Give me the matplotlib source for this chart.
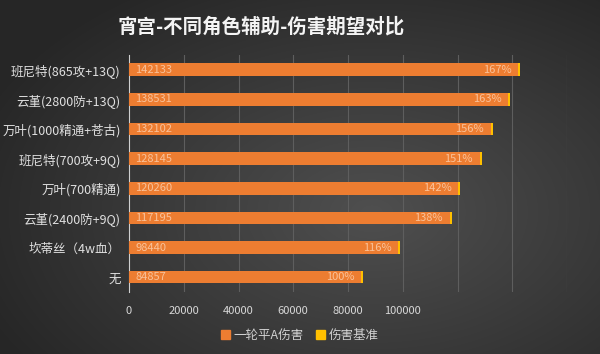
import numpy as np
import matplotlib.pyplot as plt

plt.rcParams['font.family'] = ['Noto Sans CJK SC', 'DejaVu Sans']

# 数据
角色 = ['班尼特(865攻+13Q)', '云堇(2800防+13Q)', '万叶(1000精通+苍古)', '班尼特(700攻+9Q)',
      '万叶(700精通)', '云堇(2400防+9Q)', '坎蒂丝（4w血）', '无']
伤害 = [142133, 138531, 132102, 128145, 120260, 117195, 98440, 84857]
基准 = ['167%', '163%', '156%', '151%', '142%', '138%', '116%', '100%']
刻度 = [0, 20000, 40000, 60000, 80000, 100000]
网格 = [0, 20000, 40000, 60000, 80000, 100000, 120000, 140000, 160000]
基准宽度 = 700

fig = plt.figure(figsize=(6, 3.54), dpi=100)

# 背景渐变
bg = fig.add_axes([0, 0, 1, 1], zorder=-10)
yy, xx = np.mgrid[0:1:354j, 0:1:600j]
r = np.sqrt(((xx - 0.62) / 0.75) ** 2 + ((yy - 0.6) / 0.8) ** 2)
val = np.clip(0.31 - 0.17 * r, 0.15, 0.31)
bg.imshow(np.dstack([val, val, val]), aspect='auto', extent=[0, 1, 0, 1])
bg.axis('off')

ax = fig.add_axes([0.215, 0.175, 0.73, 0.67])
ax.patch.set_alpha(0)
y = np.arange(len(角色))

ax.barh(y, 伤害, height=0.42, color='#ed7d31', zorder=3)
ax.barh(y, [基准宽度] * len(y), left=伤害, height=0.42, color='#ffc000', zorder=3)

for i in range(len(y)):
    ax.text(2200, y[i], str(伤害[i]), va='center', ha='left', fontsize=8,
            color='#f9c29a', zorder=4)
    ax.text(伤害[i] - 2500, y[i], 基准[i], va='center', ha='right', fontsize=8,
            color='#f9c29a', zorder=4)

ax.set_xlim(0, 160000)
ax.set_ylim(len(y) - 0.5, -0.5)
ax.set_yticks(y)
ax.set_yticklabels(角色, fontsize=9, color='#e0e0e0')
ax.set_xticks(刻度)
ax.set_xticklabels([str(t) for t in 刻度], fontsize=8, color='#d8d8d8')
for g in 网格[1:]:
    ax.axvline(g, color='#5e5e5e', linewidth=0.8, zorder=1)
ax.tick_params(length=0, pad=6)
ax.tick_params(axis='x', pad=10)
for s in ['top', 'right', 'bottom']:
    ax.spines[s].set_visible(False)
ax.spines['left'].set_color('#cfcfcf')
ax.spines['left'].set_linewidth(0.8)

fig.text(0.436, 0.925, '宵宫-不同角色辅助-伤害期望对比', ha='center', va='center',
         fontsize=14, fontweight='bold', color='#f4f4f4')

h1 = plt.Rectangle((0, 0), 1, 1, color='#ed7d31')
h2 = plt.Rectangle((0, 0), 1, 1, color='#ffc000')
fig.legend([h1, h2], ['一轮平A伤害', '伤害基准'], loc='center', bbox_to_anchor=(0.5, 0.052),
           ncol=2, frameon=False, fontsize=9, labelcolor='#d0d0d0', handlelength=0.7,
           handleheight=0.7, handletextpad=0.3, columnspacing=1.0)

fig.savefig('out.png', dpi=100)
